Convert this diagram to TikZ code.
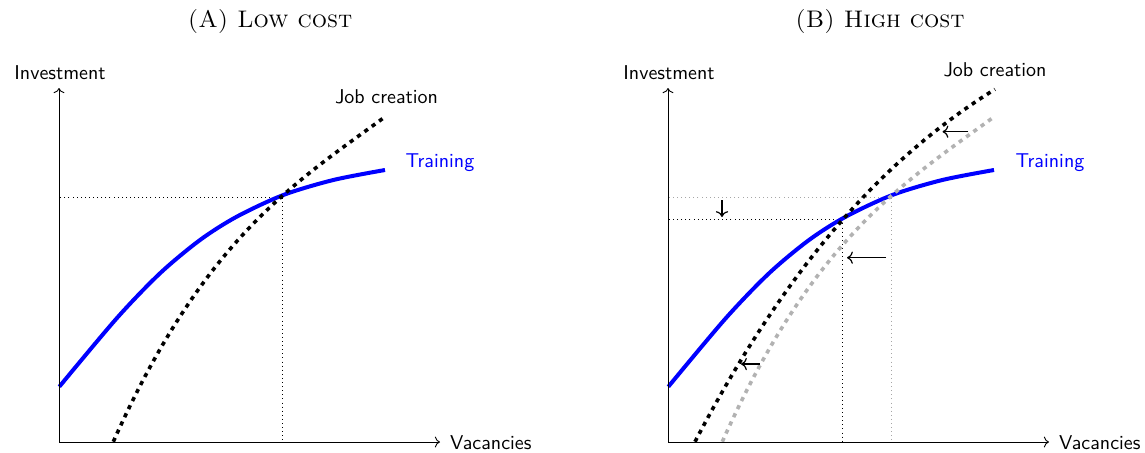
\documentclass[tikz,border=0pt]{standalone}
\usetikzlibrary{arrows.meta}
\tikzset{
  axisline/.style={->, line width=0.45pt},
  jc/.style={line width=1.8pt, dash pattern=on 2.1pt off 2.4pt},
  jcold/.style={jc, draw=black!30},
  train/.style={draw=blue, line width=2pt},
  guide/.style={line width=0.45pt, dash pattern=on 0.45pt off 1.6pt},
  guideold/.style={guide, draw=black!35},
  lbl/.style={font=\sffamily},
  shiftarr/.style={->, line width=0.6pt},
  ttl/.style={font=\large}
}
\begin{document}
\begin{tikzpicture}[x=0.5pt,y=-0.5pt]
\useasboundingbox (0,0) rectangle (1145,452);
% ---------------- left panel
\node[ttl] (ta) at (270,21) {\textsc{(A) Low cost}};
\coordinate (O1) at (59,442);
\coordinate (Y1) at (59,88);
\coordinate (X1) at (440,442);
\coordinate (E1) at (282.5,197.5);
\draw[guide] (E1) -- (E1 -| O1);
\draw[guide] (E1) -- (E1 |- O1);
\draw[train] plot[smooth] coordinates {(59.3,386.7) (116.7,318.3) (160,273.3) (200,240) (236.7,216.7) (283.3,195) (333.3,180) (385,170)};
\draw[jc] plot[domain=0:2.717, samples=60] ({113.3+100*\x},{441.7-224.1*\x+59.8*\x*\x-7.85*\x*\x*\x});
\draw[axisline] (O1) -- (Y1);
\draw[axisline] (O1) -- (X1);
\node[lbl] (inv1) at (60,73) {Investment};
\node[lbl, anchor=west] (vac1) at (443,443) {Vacancies};
\node[lbl] (jc1) at (386.5,97) {Job creation};
\node[lbl, text=blue] (tr1) at (440,163) {Training};
% ---------------- right panel
\node[ttl] (tb) at (880,21) {\textsc{(B) High cost}};
\coordinate (O2) at (668,442);
\coordinate (Y2) at (668,88);
\coordinate (X2) at (1049,442);
\coordinate (E2) at (891,197.5);
\coordinate (E3) at (842,219.3);
\draw[guideold] (E2) -- (E2 -| O2);
\draw[guideold] (E2) -- (E2 |- O2);
\draw[guide] (E3) -- (E3 -| O2);
\draw[guide] (E3) -- (E3 |- O2);
\draw[train] plot[smooth] coordinates {(668.3,386.7) (725.7,318.3) (769,273.3) (809,240) (845.7,216.7) (892.3,195) (942.3,180) (994,170)};
\draw[jcold] plot[domain=0:2.717, samples=60] ({722.3+100*\x},{441.7-224.1*\x+59.8*\x*\x-7.85*\x*\x*\x});
\draw[jc] plot[domain=0:3.0, samples=60] ({695+100*\x},{441.7-191.4*\x+30.85*\x*\x-2.07*\x*\x*\x});
\draw[axisline] (O2) -- (Y2);
\draw[axisline] (O2) -- (X2);
\node[lbl] (inv2) at (669,73) {Investment};
\node[lbl, anchor=west] (vac2) at (1052,443) {Vacancies};
\node[lbl] (jc2) at (995,70) {Job creation};
\node[lbl, text=blue] (tr2) at (1050,163) {Training};
% shift arrows
\coordinate (d1) at (722,200);
\coordinate (d2) at (722,217);
\draw[shiftarr] (d1) -- (d2);
\coordinate (m1) at (886,257.7);
\coordinate (m2) at (847,257.7);
\draw[shiftarr] (m1) -- (m2);
\coordinate (t1) at (968.3,131.7);
\coordinate (t2) at (942.5,131.7);
\draw[shiftarr] (t1) -- (t2);
\coordinate (b1) at (760,364);
\coordinate (b2) at (741,364);
\draw[shiftarr] (b1) -- (b2);
\end{tikzpicture}
\end{document}
